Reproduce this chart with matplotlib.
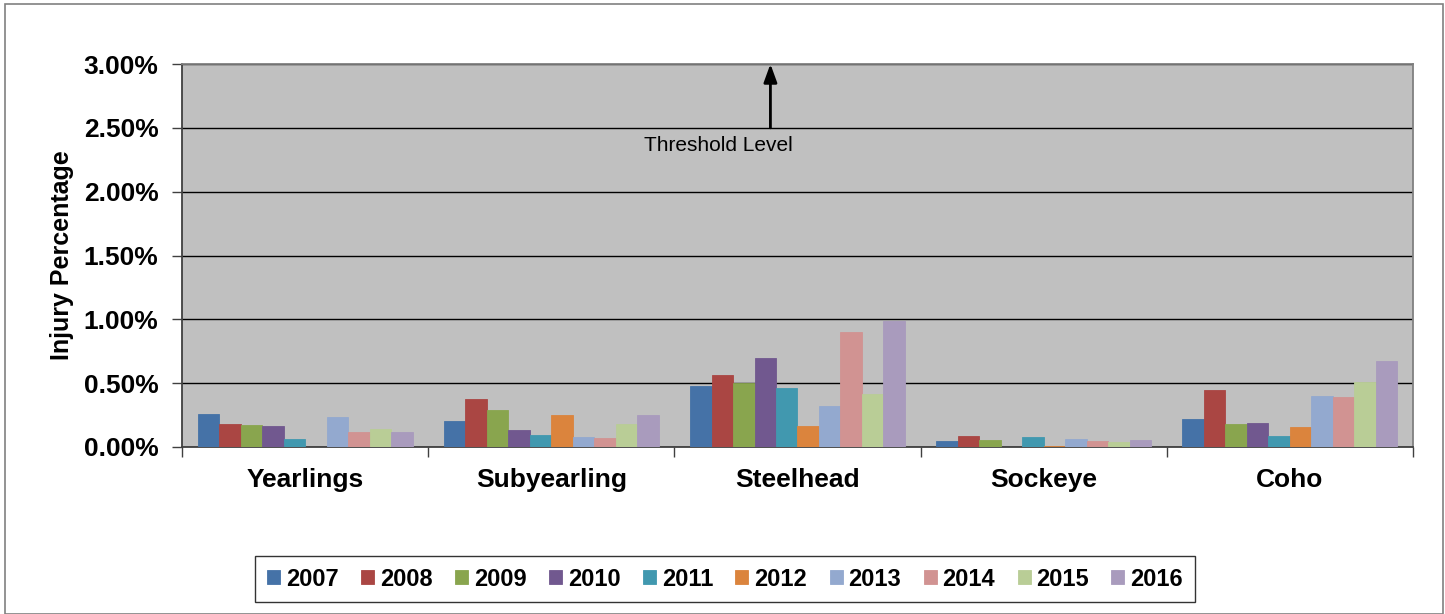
import numpy as np
import matplotlib.pyplot as plt
from matplotlib.patches import Rectangle

plt.rcParams['font.family'] = ['Liberation Sans', 'DejaVu Sans']

categories = ['Yearlings', 'Subyearling', 'Steelhead', 'Sockeye', 'Coho']
years = ['2007', '2008', '2009', '2010', '2011', '2012', '2013', '2014', '2015', '2016']

# injury percentage by year, one list per year, values in %
y2007 = [0.256, 0.206, 0.478, 0.045, 0.219]
y2008 = [0.177, 0.377, 0.567, 0.084, 0.449]
y2009 = [0.169, 0.290, 0.499, 0.053, 0.179]
y2010 = [0.164, 0.135, 0.699, 0.000, 0.187]
y2011 = [0.066, 0.092, 0.464, 0.077, 0.084]
y2012 = [0.000, 0.253, 0.166, 0.005, 0.158]
y2013 = [0.235, 0.077, 0.319, 0.063, 0.396]
y2014 = [0.116, 0.071, 0.900, 0.045, 0.390]
y2015 = [0.140, 0.182, 0.412, 0.040, 0.509]
y2016 = [0.121, 0.253, 0.987, 0.055, 0.673]
series = [y2007, y2008, y2009, y2010, y2011, y2012, y2013, y2014, y2015, y2016]

colors = ['#4572A7', '#AA4643', '#89A54E', '#71588F', '#4198AF',
          '#DB843D', '#93A9CF', '#D19392', '#B9CD96', '#A99BBD']

threshold = 3.0

fig = plt.figure(figsize=(14.45, 6.14), dpi=100)
fig.patches.append(Rectangle((0.0035, 0.0), 0.9950, 0.993, transform=fig.transFigure,
                             fill=False, edgecolor='#808080', linewidth=1.2))
ax = fig.add_axes([182 / 1445, 1 - 447 / 614, (1413 - 182) / 1445, (447 - 64) / 614])
ax.set_facecolor('#C0C0C0')

x = np.arange(len(categories))
w = 0.0873
for i, vals in enumerate(series):
    ax.bar(x + (i - 4.5) * w, vals, width=w, color=colors[i],
           edgecolor=colors[i], linewidth=0.6, label=years[i], zorder=3)

ax.set_xlim(-0.5, len(categories) - 0.5)
ax.set_ylim(0, 3.0)
yt = np.arange(0, 3.01, 0.5)
ax.set_yticks(yt)
ax.set_yticklabels(['%.2f%%' % v for v in yt], fontsize=19, fontweight='bold')
ax.yaxis.grid(True, color='black', linewidth=1.0, zorder=1)
ax.set_axisbelow(True)

ax.set_xticks(x)
ax.set_xticklabels(categories, fontsize=19, fontweight='bold')
ax.tick_params(axis='x', length=0, pad=15)
ax.set_xticks(np.arange(-0.5, len(categories)), minor=True)
ax.tick_params(axis='x', which='minor', length=7, width=1, color='#404040')
ax.tick_params(axis='y', length=7, width=1, color='#404040', pad=10)

for s in ['left', 'bottom']:
    ax.spines[s].set_color('#404040')
    ax.spines[s].set_linewidth(1.3)
for s in ['top', 'right']:
    ax.spines[s].set_color('#808080')
    ax.spines[s].set_linewidth(1.3)

ax.set_ylabel('Injury Percentage', fontsize=18, fontweight='bold')
ax.yaxis.set_label_coords(-0.088, 0.5)

# threshold arrow
ax.annotate('', xy=(1.89, threshold), xytext=(1.89, 2.5), annotation_clip=False,
            arrowprops=dict(arrowstyle='-|>,head_width=0.4,head_length=1.1',
                            color='black', lw=2, shrinkA=0, shrinkB=0), zorder=5)
ax.text(1.68, 2.36, 'Threshold Level', fontsize=15, ha='center', va='center', zorder=5)

leg = fig.legend(loc='center', bbox_to_anchor=(725 / 1445, 1 - 579 / 614), ncol=10,
                 prop={'weight': 'bold', 'size': 17},
                 handlelength=0.55, handleheight=0.55, handletextpad=0.25,
                 columnspacing=0.95, frameon=True, fancybox=False,
                 borderpad=0.5, edgecolor='black')
leg.get_frame().set_linewidth(1.0)

fig.savefig('out.png', dpi=100)
